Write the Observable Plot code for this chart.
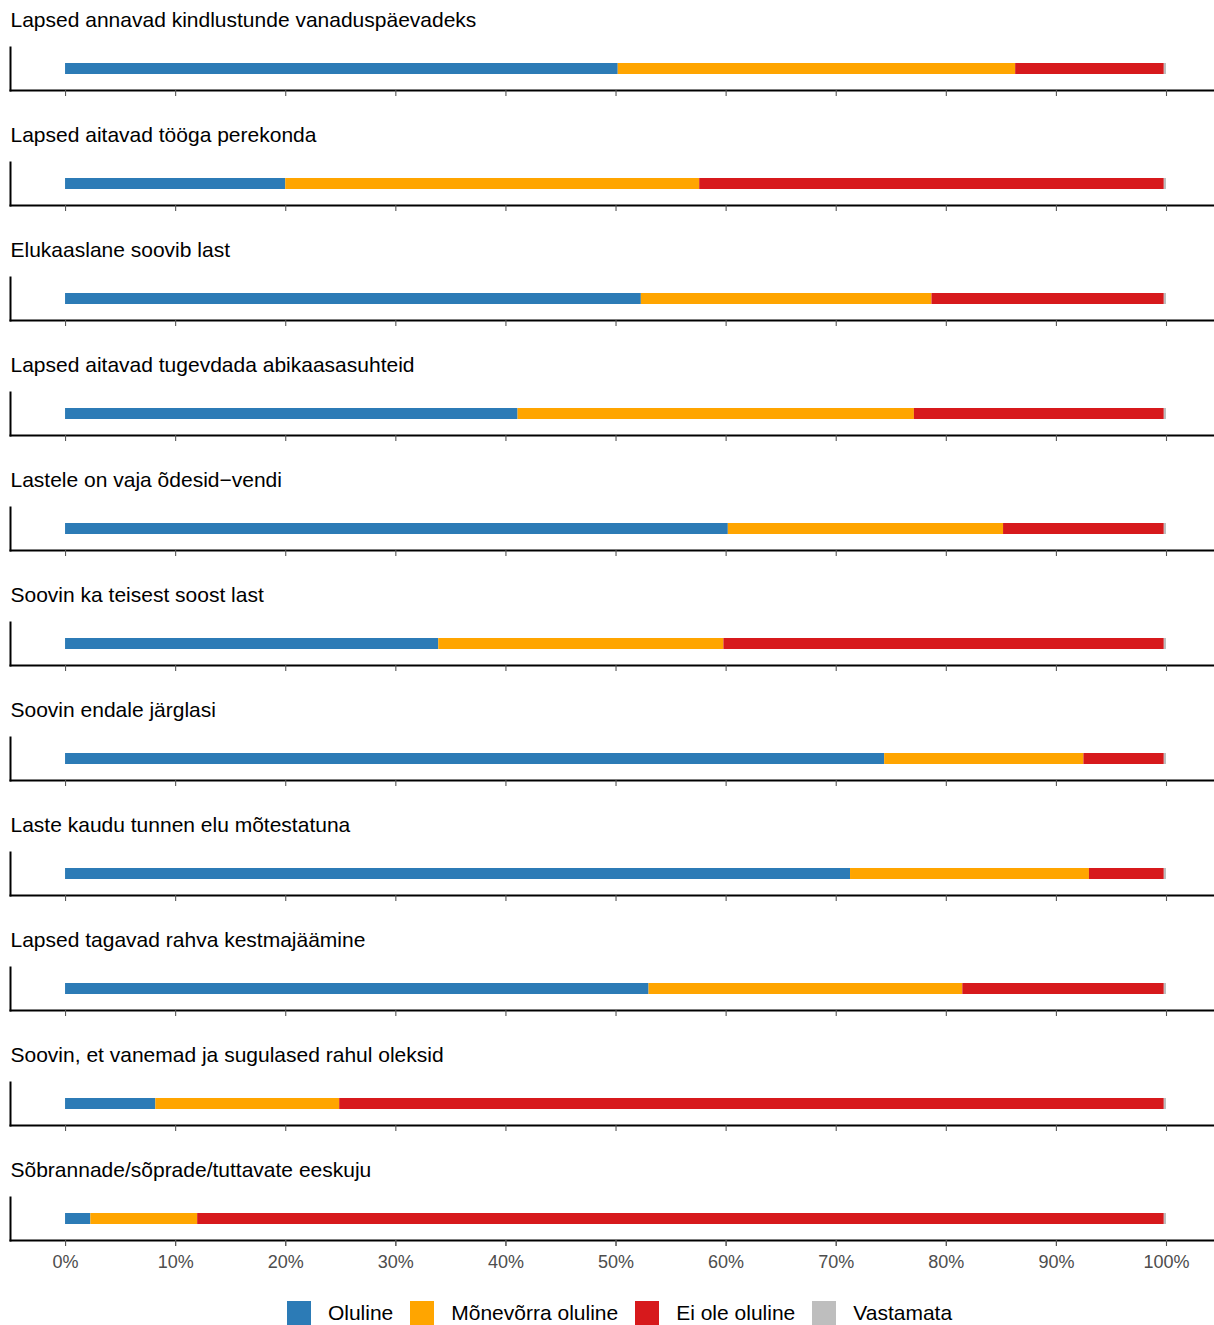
<!DOCTYPE html>
<html>
<head>
<meta charset="utf-8">
<script src="https://cdn.jsdelivr.net/npm/d3@7"></script>
<script src="https://cdn.jsdelivr.net/npm/@observablehq/plot@0.6"></script>
<style>
  body { margin: 0; background: #fff; font-family: "Liberation Sans", Arial, sans-serif; }
  #legend { display: flex; justify-content: center; align-items: center; margin-top: 16px; padding-left: 25px; height: 24px; font-size: 21px; color: #000; }
  #legend .sw { width: 24px; height: 24px; margin-right: 17px; }
  #legend .lab { margin-right: 17px; }
</style>
</head>
<body>
<div id="chart"></div>
<div id="legend"></div>
<script>
const categories = [
  "Lapsed annavad kindlustunde vanaduspäevadeks",
  "Lapsed aitavad tööga perekonda",
  "Elukaaslane soovib last",
  "Lapsed aitavad tugevdada abikaasasuhteid",
  "Lastele on vaja õdesid\u2212vendi",
  "Soovin ka teisest soost last",
  "Soovin endale järglasi",
  "Laste kaudu tunnen elu mõtestatuna",
  "Lapsed tagavad rahva kestmajäämine",
  "Soovin, et vanemad ja sugulased rahul oleksid",
  "Sõbrannade/sõprade/tuttavate eeskuju"
];
const responses = ["Oluline", "Mõnevõrra oluline", "Ei ole oluline", "Vastamata"];
const colors = ["#2C7BB6", "#FFA500", "#D7191C", "#BEBEBE"];
const oluline   = [50.2, 20.0, 52.3, 41.1, 60.2, 33.9, 74.4, 71.3, 53.0, 8.2, 2.3];
const monevorra = [36.1, 37.6, 26.4, 36.0, 25.0, 25.9, 18.1, 21.7, 28.5, 16.7, 9.7];
const eiOle     = [13.5, 42.2, 21.1, 22.7, 14.6, 40.0, 7.3, 6.8, 18.3, 74.9, 87.8];
const vastamata = [0.2, 0.2, 0.2, 0.2, 0.2, 0.2, 0.2, 0.2, 0.2, 0.2, 0.2];
const xTicks = [0, 10, 20, 30, 40, 50, 60, 70, 80, 90, 100];

const series = [oluline, monevorra, eiOle, vastamata];
const rows = [];
categories.forEach((c, i) => {
  responses.forEach((r, j) => rows.push({cat: c, resp: r, value: series[j][i]}));
});

const chart = Plot.plot({
  width: 1214,
  height: 1285,
  marginLeft: 10,
  marginRight: 0,
  marginTop: 47,
  marginBottom: 45,
  style: {fontFamily: "'Liberation Sans', Arial, sans-serif", background: "#fff"},
  x: {domain: [-5, 104.36], label: null},
  fy: {domain: categories, paddingInner: 72 / 115, paddingOuter: 0, round: false, axis: null},
  color: {domain: responses, range: colors},
  marks: [
    Plot.barX(rows, Plot.stackX({x: "value", fill: "resp", fy: "cat", order: responses, insetTop: 16, insetBottom: 16})),
    Plot.frame({anchor: "left", stroke: "#000", strokeWidth: 2}),
    Plot.frame({anchor: "bottom", stroke: "#000", strokeWidth: 2}),
    Plot.axisX(xTicks, {facetAnchor: null, tickSize: 6, tickFormat: () => "", stroke: "#555", strokeWidth: 1.1, label: null}),
    Plot.axisX(xTicks, {facetAnchor: "bottom", tickSize: 6, tickPadding: 9, tickFormat: d => d + "%", stroke: "#555", fill: "#4d4d4d", fontSize: 18, label: null}),
    Plot.text(categories, {fy: d => d, text: d => d, frameAnchor: "top-left", lineAnchor: "middle", dy: -27, textAnchor: "start", fontSize: 21, fill: "#000"})
  ]
});
document.getElementById("chart").appendChild(chart);

const leg = document.getElementById("legend");
responses.forEach((r, i) => {
  const sw = document.createElement("div");
  sw.className = "sw";
  sw.style.background = colors[i];
  const lab = document.createElement("span");
  lab.className = "lab";
  lab.textContent = r;
  if (i === responses.length - 1) lab.style.marginRight = "0";
  leg.appendChild(sw);
  leg.appendChild(lab);
});
</script>
</body>
</html>
